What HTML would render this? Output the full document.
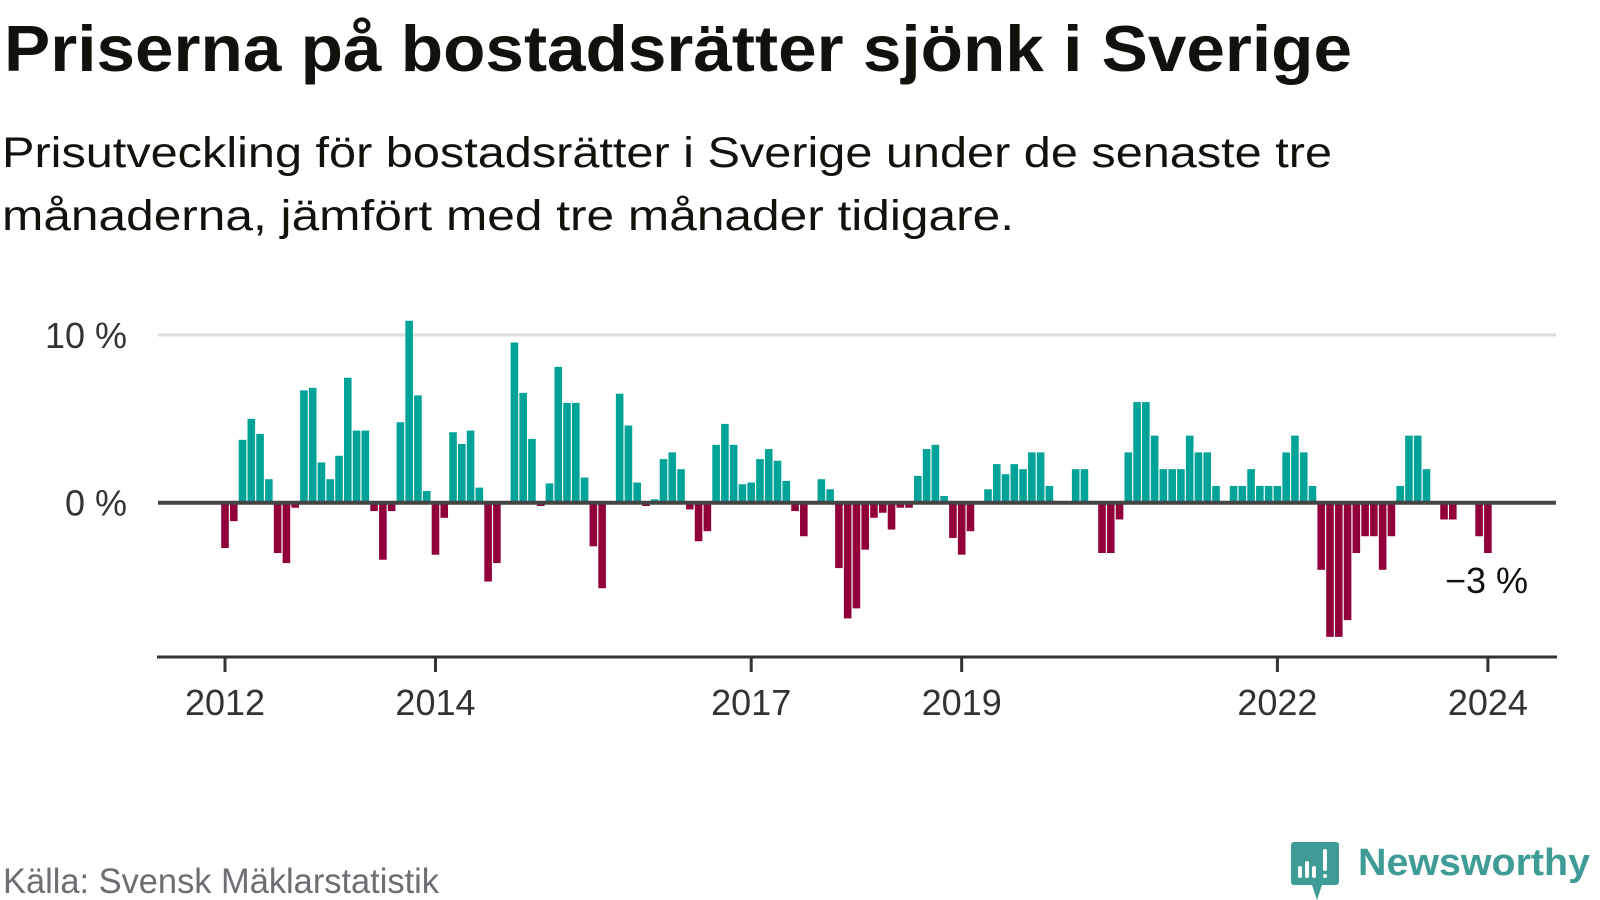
<!DOCTYPE html>
<html><head><meta charset="utf-8">
<style>
html,body{margin:0;padding:0;background:#fff;}
svg{display:block;font-family:"Liberation Sans","DejaVu Sans",sans-serif;}
</style></head>
<body>
<svg id="chart" width="1600" height="900" viewBox="0 0 1600 900" xmlns="http://www.w3.org/2000/svg">
<text x="4" y="71" font-size="65" font-weight="bold" fill="#12120c" textLength="1348" lengthAdjust="spacingAndGlyphs">Priserna på bostadsrätter sjönk i Sverige</text>
<text x="2" y="167" font-size="43" fill="#12120c" textLength="1330" lengthAdjust="spacingAndGlyphs">Prisutveckling för bostadsrätter i Sverige under de senaste tre</text>
<text x="2" y="230" font-size="43" fill="#12120c" textLength="1012" lengthAdjust="spacingAndGlyphs">månaderna, jämfört med tre månader tidigare.</text>
<g id="grid"></g>
<g id="bars"></g>
<g id="axes"></g>
<text x="1528" y="593" text-anchor="end" font-size="36" fill="#12120c">−3 %</text>
<text x="3" y="893" font-size="35" fill="#6d6d73" textLength="436" lengthAdjust="spacingAndGlyphs">Källa: Svensk Mäklarstatistik</text>
<g>
  <path d="M1294 842 h42 a3 3 0 0 1 3 3 v37 a3 3 0 0 1 -3 3 h-14 l-5 15 l-5 -15 h-18 a3 3 0 0 1 -3 -3 v-37 a3 3 0 0 1 3 -3z" fill="#3f9b96"/>
  <rect x="1298" y="866" width="4" height="12" rx="2" fill="#fff"/>
  <rect x="1305" y="861" width="4" height="17" rx="2" fill="#fff"/>
  <rect x="1312" y="866" width="4" height="12" rx="2" fill="#fff"/>
  <rect x="1323" y="849" width="4" height="22" rx="2" fill="#fff"/>
  <rect x="1323" y="874" width="4" height="4" rx="2" fill="#fff"/>
  <text x="1358" y="875" font-size="38" font-weight="bold" fill="#3f9b96" textLength="232" lengthAdjust="spacingAndGlyphs">Newsworthy</text>
</g>
</svg>
<script>
const values = [-2.7,-1.1,3.75,5.0,4.1,1.4,-3.0,-3.6,-0.3,6.7,6.85,2.4,
1.4,2.8,7.45,4.3,4.3,-0.5,-3.4,-0.5,4.8,10.85,6.4,0.7,
-3.1,-0.9,4.2,3.5,4.3,0.9,-4.7,-3.6,0,9.55,6.55,3.8,
-0.2,1.15,8.1,5.95,5.95,1.5,-2.6,-5.1,0,6.5,4.6,1.2,
-0.2,0.2,2.6,3.0,2.0,-0.4,-2.3,-1.7,3.45,4.7,3.45,1.1,
1.2,2.6,3.2,2.5,1.3,-0.5,-2.0,0,1.4,0.8,-3.9,-6.9,
-6.3,-2.8,-0.9,-0.6,-1.6,-0.3,-0.3,1.6,3.2,3.45,0.4,-2.1,
-3.1,-1.7,0,0.8,2.3,1.7,2.3,2.0,3.0,3.0,1.0,0,
0,2.0,2.0,0,-3,-3,-1,3,6,6,4,2,
2,2,4,3,3,1,0,1,1,2,1,1,
1,3,4,3,1,-4,-8,-8,-7,-3,-2,-2,
-4,-2,1,4,4,2,0,-1,-1,0,0,-2,
-3];
const startYear = 2012;
const tickYears = [2012, 2014, 2017, 2019, 2022, 2024];
const yTicks = [0, 10];
const yTickLabels = ["0 %", "10 %"];

const NS = "http://www.w3.org/2000/svg";
const x0 = 225, step = 8.77, y0 = 502.7, pxPer = 16.77;
const xScale = i => x0 + i * step;
const yScale = v => y0 - v * pxPer;
function mk(tag, attrs, parent){const e=document.createElementNS(NS,tag);for(const k in attrs)e.setAttribute(k,attrs[k]);parent.appendChild(e);return e;}

const grid = document.getElementById('grid');
yTicks.forEach((t,i)=>{
  if(t!==0){
    const l = mk('line',{x1:158,x2:1556,y1:yScale(t),y2:yScale(t),stroke:'#dedede','stroke-width':3},grid);
    
    
  }
  const tx = mk('text',{x:127,y:yScale(t)+13,'text-anchor':'end','font-size':36,fill:'#333'},grid);
  tx.textContent = yTickLabels[i];
  
  
});

const bars = document.getElementById('bars');
values.forEach((v,i)=>{
  if(v===0) return;
  const cx = xScale(i);
  const y = v>0 ? yScale(v) : y0;
  const r = mk('rect',{x:cx-3.8,y:y,width:7.6,height:Math.abs(v)*pxPer,fill:v>0?'#00a398':'#910039'},bars);
  
  
});

const axes = document.getElementById('axes');
const zl = mk('line',{x1:158,x2:1556,y1:y0,y2:y0,stroke:'#444','stroke-width':4},axes);


const ax = mk('line',{x1:157,x2:1557,y1:657,y2:657,stroke:'#333','stroke-width':3},axes);


tickYears.forEach(yr=>{
  const tx = xScale((yr-startYear)*12);
  const tk = mk('line',{x1:tx,x2:tx,y1:657,y2:672,stroke:'#333','stroke-width':3},axes);
  
  
  const lb = mk('text',{x:tx,y:715,'text-anchor':'middle','font-size':36,fill:'#333'},axes);
  lb.textContent = yr;
  
  
});
</script>
</body></html>
